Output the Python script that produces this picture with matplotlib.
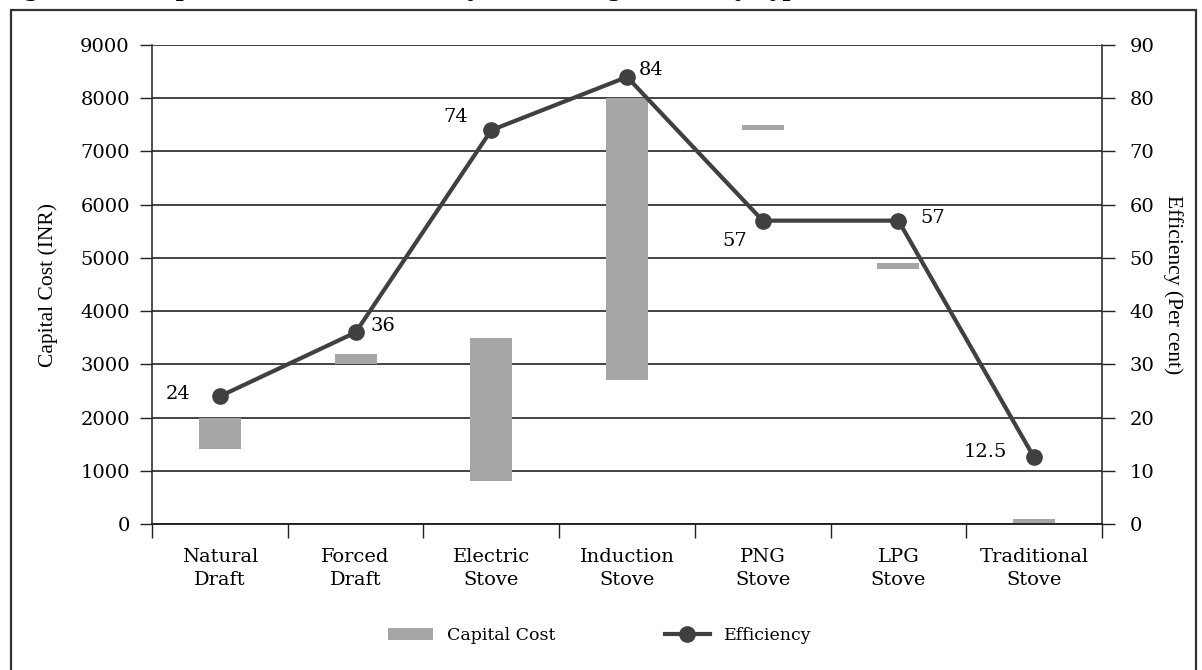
"""Capital cost range and efficiency of cooking stoves, by stove type."""

import matplotlib

matplotlib.use("Agg")
import matplotlib.pyplot as plt
from matplotlib.lines import Line2D
from matplotlib.patches import Patch, Rectangle

stoves = ["Natural\nDraft", "Forced\nDraft", "Electric\nStove", "Induction\nStove",
          "PNG\nStove", "LPG\nStove", "Traditional\nStove"]
cost_low = [1400, 3000, 800, 2700, 7400, 4800, 0]
cost_high = [2000, 3200, 3500, 8000, 7500, 4900, 100]
efficiency = [24, 36, 74, 84, 57, 57, 12.5]
efficiency_labels = ["24", "36", "74", "84", "57", "57", "12.5"]

# label offsets in pixels relative to each efficiency marker
label_offsets = [(-42, 2), (27, 6), (-36, 13), (24, 7), (-28, -20), (34, 3), (-49, 5)]

SERIF = "DejaVu Serif"
NARROW = "Liberation Serif"
BAR = "#A6A6A6"
LINE = "#404040"
FS = 14

fig = plt.figure(figsize=(12.02, 6.70), dpi=100)
ax = fig.add_axes([0.1265, 0.2179, 0.7903, 0.7149])
ax2 = ax.twinx()

x = list(range(len(stoves)))
heights = [hi - lo for lo, hi in zip(cost_low, cost_high)]
ax.bar(x, heights, bottom=cost_low, width=0.31, color=BAR, zorder=2)

ax.set_xlim(-0.5, len(stoves) - 0.5)
ax.set_ylim(0, 9000)
ax.set_yticks(range(0, 9001, 1000))
ax.set_axisbelow(True)
ax.yaxis.grid(True, color="#111111", lw=1.1)
ax.set_xticks([k - 0.5 for k in range(len(stoves) + 1)])
ax.set_xticklabels([])
ax.set_xticks(x, minor=True)
ax.set_xticklabels(stoves, minor=True, fontsize=FS, family=SERIF, linespacing=1.4)
ax.tick_params(axis="x", which="minor", length=0, pad=17)
ax.tick_params(axis="x", which="major", length=10, width=1, color="#222222")
ax.tick_params(axis="y", length=9, width=1, color="#222222", labelsize=FS, pad=7)
for lab in ax.get_yticklabels():
    lab.set_family(SERIF)
ax.set_ylabel("Capital Cost (INR)", family=NARROW, fontsize=15.5, labelpad=16)

ax2.plot(x, efficiency, color=LINE, lw=3, marker="o", ms=11, zorder=4)
ax2.set_ylim(0, 90)
ax2.set_yticks(range(0, 91, 10))
ax2.tick_params(axis="y", length=9, width=1, color="#222222", labelsize=FS, pad=11)
for lab in ax2.get_yticklabels():
    lab.set_family(SERIF)
ax2.set_ylabel("Efficiency (Per cent)", family=NARROW, fontsize=15.5, rotation=270, labelpad=20)

for xi, val, txt, (dx, dy) in zip(x, efficiency, efficiency_labels, label_offsets):
    ax2.annotate(txt, (xi, val), xytext=(dx, dy), textcoords="offset pixels",
                 ha="center", va="center", fontsize=FS, family=SERIF)

for a in (ax, ax2):
    a.spines["top"].set_visible(False)
    for side in ("left", "right", "bottom"):
        a.spines[side].set_color("#222222")
        a.spines[side].set_linewidth(1.1)
ax.spines["right"].set_visible(False)
ax2.spines["left"].set_visible(False)

handles = [Patch(facecolor=BAR, edgecolor="none"),
           Line2D([], [], color=LINE, lw=3, marker="o", ms=11)]
fig.legend(handles, ["Capital Cost", "Efficiency"], loc="center", ncol=2,
           bbox_to_anchor=(0.499, 0.052), frameon=False, handlelength=2.6,
           handletextpad=0.8, columnspacing=6.3, prop={"family": SERIF, "size": 12.5})

# frame around the whole figure
fig.patches.append(Rectangle((11 / 1202, -0.01), 1185 / 1202, 1 - 10 / 670 + 0.01,
                             transform=fig.transFigure, fill=False,
                             edgecolor="#333333", lw=1.6))

# caption sits above the frame; only its lowest strokes fall inside the image
fig.text(0.0, 1 + 4 / 670, "Figure 4.2: Capital Cost and Efficiency of Cooking Stoves by Type",
         ha="left", va="baseline", fontsize=16, fontweight="bold", family=SERIF)

fig.savefig("out.png", dpi=100)
